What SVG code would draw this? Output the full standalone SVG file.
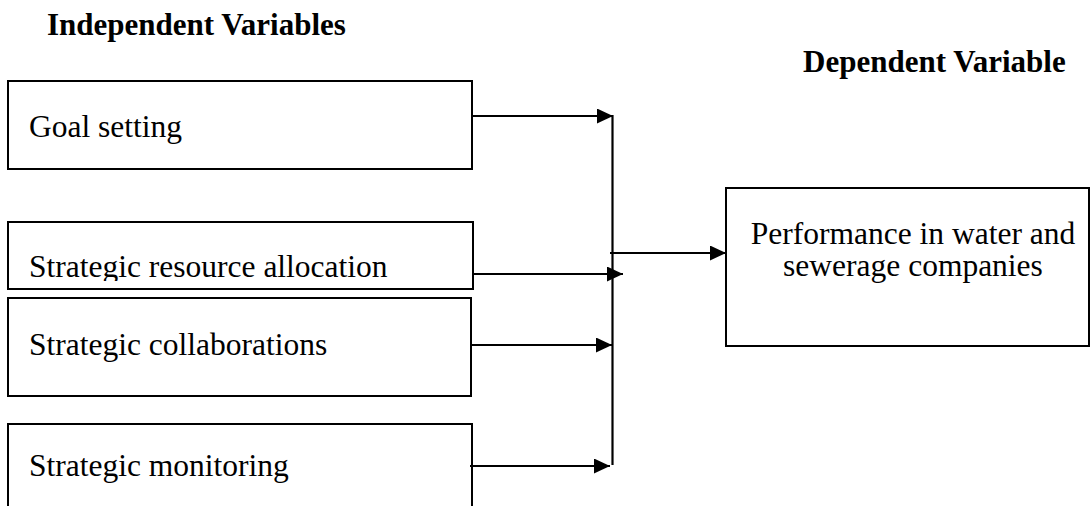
<svg xmlns="http://www.w3.org/2000/svg" width="1090" height="506" viewBox="0 0 1090 506">
  <style>
    .box { fill: #ffffff; stroke: #000000; stroke-width: 2; }
    .lbl { font-family: "Liberation Serif", "Times New Roman", serif; font-size: 31.5px; fill: #000000; }
    .head { font-family: "Liberation Serif", "Times New Roman", serif; font-size: 31px; font-weight: bold; fill: #000000; }
    .conn { fill: none; stroke: #000000; stroke-width: 2.2; }
  </style>
  <defs>
    <marker id="arr" markerUnits="userSpaceOnUse" markerWidth="16" markerHeight="15" refX="16" refY="7.5" orient="auto">
      <path d="M0,0 L16,7.5 L0,15 z" fill="#000000"/>
    </marker>
    <clipPath id="clip2">
      <rect x="8" y="222" width="465" height="59"/>
    </clipPath>
  </defs>
  <rect width="1090" height="506" fill="#ffffff"/>

  <text class="head" x="47" y="35">Independent Variables</text>
  <text class="head" x="803" y="72">Dependent Variable</text>

  <g id="node-goal">
    <rect class="box" x="8" y="81" width="464" height="88"/>
    <text class="lbl" x="29" y="137">Goal setting</text>
  </g>
  <g id="node-resource">
    <rect class="box" x="8" y="222" width="465" height="67"/>
    <text class="lbl" x="29" y="277" clip-path="url(#clip2)">Strategic resource allocation</text>
  </g>
  <g id="node-collab">
    <rect class="box" x="8" y="298" width="463" height="98"/>
    <text class="lbl" x="29" y="355">Strategic collaborations</text>
  </g>
  <g id="node-monitor">
    <rect class="box" x="8" y="424" width="464" height="100"/>
    <text class="lbl" x="29" y="476">Strategic monitoring</text>
  </g>
  <g id="node-performance">
    <rect class="box" x="726" y="188" width="363" height="158"/>
    <text class="lbl" x="913" y="244" text-anchor="middle">Performance in water and</text>
    <text class="lbl" x="913" y="276" text-anchor="middle">sewerage companies</text>
  </g>

  <g id="connectors">
    <line class="conn" x1="612.5" y1="115" x2="612.5" y2="465"/>
    <line class="conn" x1="472" y1="116" x2="613" y2="116" marker-end="url(#arr)"/>
    <line class="conn" x1="473" y1="274" x2="623" y2="274" marker-end="url(#arr)"/>
    <line class="conn" x1="471" y1="345" x2="612" y2="345" marker-end="url(#arr)"/>
    <line class="conn" x1="470" y1="466" x2="610" y2="466" marker-end="url(#arr)"/>
    <line class="conn" x1="610" y1="253" x2="726" y2="253" marker-end="url(#arr)"/>
  </g>
</svg>
